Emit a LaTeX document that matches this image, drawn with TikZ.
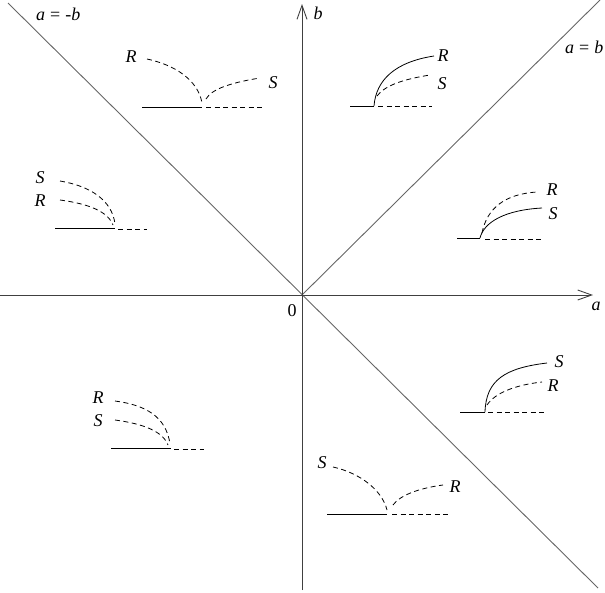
\documentclass[tikz,border=0pt]{standalone}
\usepackage{fontspec}
\setmainfont{Liberation Serif}
\usetikzlibrary{arrows.meta}
\tikzset{
  axis/.style={draw=black!75, line width=0.9pt},
  diag/.style={draw=black!60, line width=0.9pt},
  axarrow/.style={-{Straight Barb[length=14pt,width=10pt,line width=0.9pt]}},
  sol/.style={draw=black, line width=0.8pt},
  dsh/.style={draw=black, line width=0.8pt, dash pattern=on 5pt off 3.5pt},
  lab/.style={font=\fontsize{18}{20}\selectfont\itshape, inner sep=0pt},
}
\begin{document}
\begin{tikzpicture}[x=1pt,y=-1pt]
\useasboundingbox (0,0) rectangle (605,592);
% axes and diagonals
\coordinate (O) at (302,295);
\coordinate (aL) at (0,295);
\coordinate (aR) at (593,295);
\coordinate (bT) at (302,4);
\coordinate (bB) at (302,590);
\coordinate (dTL) at (8,3);
\coordinate (dBR) at (598,588);
\coordinate (dTR) at (600,0);
\draw[diag] (dTL) -- (dBR);
\draw[diag] (O) -- (dTR);
\draw[axis,axarrow] (aL) -- (aR);
\draw[axis,axarrow] (bB) -- (bT);
\node[lab] (la) at (596,306) {a};
\node[lab] (lb) at (318,13) {b};
\node[lab,font=\fontsize{18}{20}\selectfont] (l0) at (292,311) {0};
\node[lab,anchor=west] (lamb) at (36,14) {a\;\upshape{=}\;-\itshape b};
\node[lab,anchor=west] (lab2) at (565,47) {a\;\upshape{=}\;\itshape b};
% sketch 1 (top-left)
\draw[sol] (142,107) -- (202,107);
\draw[dsh] (206,107) -- (263,107);
\draw[dsh] (147,59) .. controls (175,65) and (198,80) .. (202,103);
\draw[dsh] (206,99) .. controls (212,88) and (235,82) .. (260,78);
\node[lab] (r1) at (131,57) {R};
\node[lab] (s1) at (273,83) {S};
% sketch 2 (top right)
\draw[sol] (350,106) -- (374,106);
\draw[sol] (374,106) .. controls (376,80) and (395,62) .. (434,56);
\draw[dsh] (378,106) -- (432,106);
\draw[dsh] (377,96) .. controls (385,85) and (405,79) .. (430,75);
\node[lab] (r2) at (443,56) {R};
\node[lab] (s2) at (442,84) {S};
% sketch 3 (left)
\draw[sol] (55,228) -- (115,228);
\draw[dsh] (118,229) -- (147,229);
\draw[dsh] (60,181) .. controls (90,186) and (112,200) .. (115,224);
\draw[dsh] (60,200) .. controls (90,204) and (108,212) .. (113,225);
\node[lab] (s3) at (40,178) {S};
\node[lab] (r3) at (40,201) {R};
% sketch 4 (right upper)
\draw[sol] (457,238) -- (480,238);
\draw[dsh] (485,239) -- (542,239);
\draw[sol] (480,238) .. controls (484,222) and (505,210) .. (542,208);
\draw[dsh] (482,233) .. controls (487,208) and (505,194) .. (537,192);
\node[lab] (r4) at (552,190) {R};
\node[lab] (s4) at (553,214) {S};
% sketch 5 (right lower)
\draw[sol] (460,412) -- (485,412);
\draw[dsh] (488,412) -- (547,412);
\draw[sol] (485,412) .. controls (486,380) and (505,368) .. (547,363);
\draw[dsh] (487,405) .. controls (495,393) and (515,385) .. (542,382);
\node[lab] (s5) at (559,362) {S};
\node[lab] (r5) at (553,386) {R};
% sketch 6 (bottom-left)
\draw[sol] (111,448) -- (171,448);
\draw[dsh] (174,449) -- (204,449);
\draw[dsh] (115,401) .. controls (145,405) and (166,416) .. (170,444);
\draw[dsh] (115,420) .. controls (145,424) and (163,432) .. (168,445);
\node[lab] (r6) at (98,398) {R};
\node[lab] (s6) at (98,421) {S};
% sketch 7 (bottom)
\draw[sol] (327,514) -- (387,514);
\draw[dsh] (392,514) -- (448,514);
\draw[dsh] (333,467) .. controls (360,473) and (382,490) .. (387,510);
\draw[dsh] (393,505) .. controls (400,495) and (420,488) .. (443,485);
\node[lab] (s7) at (322,463) {S};
\node[lab] (r7) at (455,487) {R};
\end{tikzpicture}
\end{document}
